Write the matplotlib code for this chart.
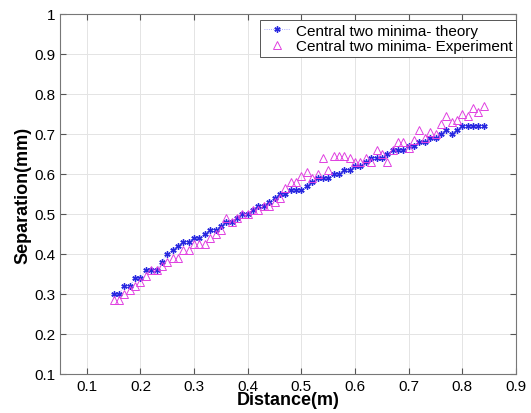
import matplotlib.pyplot as plt
import numpy as np

plt.rcParams['font.family'] = ['Liberation Sans', 'DejaVu Sans']

distance = [0.15, 0.16, 0.17, 0.18, 0.19, 0.20, 0.21, 0.22, 0.23, 0.24,
            0.25, 0.26, 0.27, 0.28, 0.29, 0.30, 0.31, 0.32, 0.33, 0.34,
            0.35, 0.36, 0.37, 0.38, 0.39, 0.40, 0.41, 0.42, 0.43, 0.44,
            0.45, 0.46, 0.47, 0.48, 0.49, 0.50, 0.51, 0.52, 0.53, 0.54,
            0.55, 0.56, 0.57, 0.58, 0.59, 0.60, 0.61, 0.62, 0.63, 0.64,
            0.65, 0.66, 0.67, 0.68, 0.69, 0.70, 0.71, 0.72, 0.73, 0.74,
            0.75, 0.76, 0.77, 0.78, 0.79, 0.80, 0.81, 0.82, 0.83, 0.84]

theory = [0.30, 0.30, 0.32, 0.32, 0.34, 0.34, 0.36, 0.36, 0.36, 0.38,
          0.40, 0.41, 0.42, 0.43, 0.43, 0.44, 0.44, 0.45, 0.46, 0.46,
          0.47, 0.48, 0.48, 0.49, 0.50, 0.50, 0.51, 0.52, 0.52, 0.53,
          0.54, 0.55, 0.55, 0.56, 0.56, 0.56, 0.57, 0.58, 0.59, 0.59,
          0.59, 0.60, 0.60, 0.61, 0.61, 0.62, 0.62, 0.63, 0.64, 0.64,
          0.64, 0.65, 0.66, 0.66, 0.66, 0.67, 0.67, 0.68, 0.68, 0.69,
          0.69, 0.70, 0.71, 0.70, 0.71, 0.72, 0.72, 0.72, 0.72, 0.72]

experiment = [0.285, 0.285, 0.30, 0.31, 0.32, 0.33, 0.345, 0.36, 0.36, 0.37,
              0.38, 0.39, 0.39, 0.41, 0.41, 0.425, 0.425, 0.425, 0.44, 0.45,
              0.46, 0.49, 0.48, 0.49, 0.50, 0.50, 0.51, 0.51, 0.52, 0.52,
              0.53, 0.54, 0.565, 0.58, 0.58, 0.595, 0.605, 0.59, 0.60, 0.64,
              0.61, 0.645, 0.645, 0.645, 0.64, 0.63, 0.63, 0.64, 0.63, 0.66,
              0.65, 0.63, 0.66, 0.68, 0.68, 0.665, 0.685, 0.71, 0.69, 0.705,
              0.70, 0.725, 0.745, 0.73, 0.735, 0.75, 0.745, 0.765, 0.755, 0.77]

fig = plt.figure(figsize=(5.31, 4.14), dpi=100)
ax = fig.add_axes([60 / 531, 1 - 375 / 414, 456 / 531, 360 / 414])

# theory: small asterisks joined by a faint dotted line
ax.plot(distance, theory, ':', color='#9090ff', lw=0.6, marker=(6, 2, 0),
        markersize=4.5, markeredgecolor='#2828e0', markeredgewidth=1.0,
        label='Central two minima- theory')
ax.plot(distance, experiment, linestyle='none', marker='^', markersize=6,
        markerfacecolor='none', markeredgecolor='#e040e0', markeredgewidth=0.7,
        label='Central two minima- Experiment')

ax.set_xlim(0.05, 0.9)
ax.set_ylim(0.1, 1.0)
ax.set_xticks(np.arange(0.1, 0.91, 0.1))
ax.set_yticks(np.arange(0.1, 1.01, 0.1))
ax.set_xticklabels(['0.1', '0.2', '0.3', '0.4', '0.5', '0.6', '0.7', '0.8', '0.9'])
ax.set_yticklabels(['0.1', '0.2', '0.3', '0.4', '0.5', '0.6', '0.7', '0.8', '0.9', '1'])
ax.tick_params(direction='in', top=True, right=True, labelsize=11,
               color='#555555', length=4)
ax.grid(True, color='#e4e4e4', lw=0.7)
for s in ax.spines.values():
    s.set_color('#777777')

ax.set_xlabel('Distance(m)', fontsize=13, fontweight='bold', labelpad=-1)
ax.set_ylabel('Separation(mm)', fontsize=13, fontweight='bold', labelpad=2)

leg = ax.legend(loc='upper right', bbox_to_anchor=(1.0, 1 - 6 / 360),
                fontsize=11, fancybox=False, borderaxespad=0,
                handlelength=1.7, handletextpad=0.35, borderpad=0.25,
                labelspacing=0.1, framealpha=1)
leg.get_frame().set_edgecolor('#555555')
leg.get_frame().set_linewidth(0.7)

fig.savefig('out.png', dpi=100)
